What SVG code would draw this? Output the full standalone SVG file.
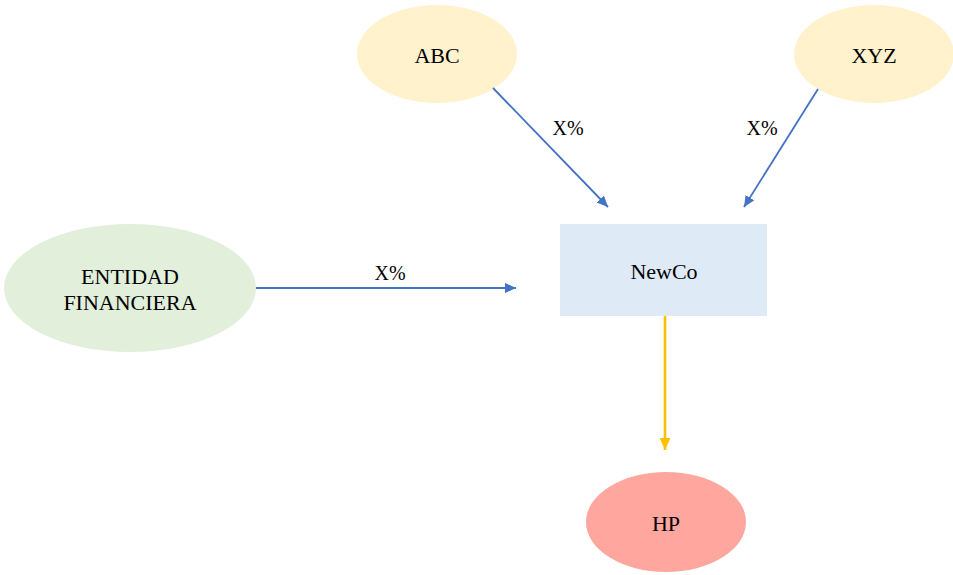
<svg xmlns="http://www.w3.org/2000/svg" width="953" height="575" viewBox="0 0 953 575">
<style>
text{font-family:"Liberation Serif","Times New Roman",serif;fill:#000;text-anchor:middle;dominant-baseline:central}
.n{font-size:22px}
.l{font-size:20px}
.blue{stroke:#4472C4;stroke-width:1.8;fill:none}
.gold{stroke:#FFC000;stroke-width:2.6;fill:none}
</style>
<defs>
<marker id="ab" viewBox="0 0 10 10" refX="10" refY="5" markerWidth="11" markerHeight="10" markerUnits="userSpaceOnUse" orient="auto" preserveAspectRatio="none"><path d="M0,0L10,5L0,10z" fill="#4472C4"/></marker>
<marker id="ag" viewBox="0 0 10 10" refX="10" refY="5" markerWidth="12" markerHeight="11" markerUnits="userSpaceOnUse" orient="auto" preserveAspectRatio="none"><path d="M0,0L10,5L0,10z" fill="#FFC000"/></marker>
</defs>
<rect width="953" height="575" fill="#fff"/>
<g id="abc"><ellipse cx="437" cy="54" rx="80" ry="49" fill="#FFF2CC"/><text class="n" x="437" y="55">ABC</text></g>
<g id="xyz"><ellipse cx="874" cy="54" rx="80" ry="49" fill="#FFF2CC"/><text class="n" x="874" y="55">XYZ</text></g>
<g id="entidad"><ellipse cx="130" cy="288" rx="126" ry="64" fill="#E2EFDA"/><text class="n" x="130" y="276">ENTIDAD</text><text class="n" x="130" y="302">FINANCIERA</text></g>
<g id="newco"><rect x="560" y="224" width="207" height="92" fill="#DEEAF6"/><text class="n" x="664" y="271">NewCo</text></g>
<g id="hp"><ellipse cx="666" cy="522" rx="80" ry="50" fill="#FFA69E"/><text class="n" x="666" y="523">HP</text></g>
<g id="connectors">
<line class="blue" x1="493" y1="88" x2="608" y2="207" marker-end="url(#ab)"/>
<line class="blue" x1="818" y1="89" x2="744" y2="207" marker-end="url(#ab)"/>
<line class="blue" x1="256" y1="288" x2="516" y2="288" marker-end="url(#ab)"/>
<line class="gold" x1="665" y1="316" x2="665" y2="450" marker-end="url(#ag)"/>
<text class="l" x="568" y="128">X%</text>
<text class="l" x="762" y="128">X%</text>
<text class="l" x="390" y="273">X%</text>
</g>
</svg>
